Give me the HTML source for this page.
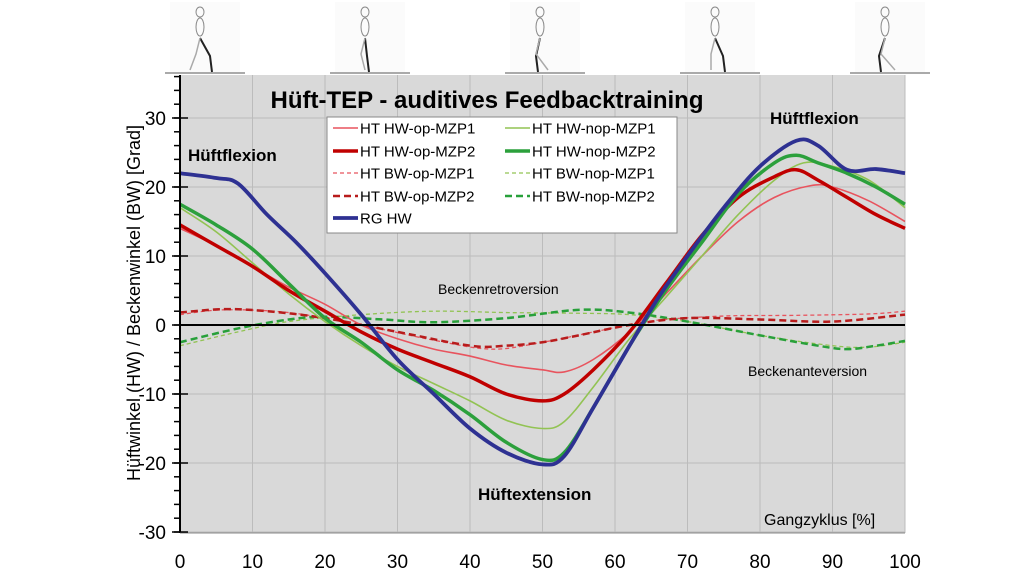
<!DOCTYPE html>
<html><head><meta charset="utf-8"><style>
body{margin:0;background:#fff;}
svg{display:block;font-family:"Liberation Sans",sans-serif;}
</style></head><body>
<svg id="s" width="1024" height="576" viewBox="0 0 1024 576" xmlns="http://www.w3.org/2000/svg">
<rect x="180" y="75" width="725" height="458" fill="#d9d9d9"/>
<g id="grid" stroke="#bcbcbc" stroke-width="1"></g>
<g id="figs"></g>
<g id="curves" fill="none"></g>
<line x1="180" y1="325" x2="905" y2="325" stroke="#000" stroke-width="2"/>
<line x1="180" y1="75" x2="180" y2="533" stroke="#000" stroke-width="2"/>
<line x1="180" y1="533" x2="905" y2="533" stroke="#888" stroke-width="1"/>
<g id="ticks" stroke="#000" stroke-width="1.5"></g>
<g id="labels" font-size="19" fill="#000"></g>
<text x="140" y="303" font-size="18" text-anchor="middle" transform="rotate(-90 140 303)">Hüftwinkel (HW) / Beckenwinkel (BW) [Grad]</text>
<text x="487" y="108" font-size="24" font-weight="bold" text-anchor="middle">Hüft-TEP - auditives Feedbacktraining</text>
<text x="188" y="161" font-size="17" font-weight="bold">Hüftflexion</text>
<text x="770" y="124" font-size="17" font-weight="bold">Hüftflexion</text>
<text x="478" y="500" font-size="17" font-weight="bold">Hüftextension</text>
<text x="438" y="294" font-size="14">Beckenretroversion</text>
<text x="748" y="376" font-size="14">Beckenanteversion</text>
<text x="764" y="525" font-size="16">Gangzyklus [%]</text>
<g id="legend"></g>
</svg>
<script>
const NS="http://www.w3.org/2000/svg";
function el(p,t,a,txt){const e=document.createElementNS(NS,t);for(const k in a)e.setAttribute(k,a[k]);if(txt!==undefined)e.textContent=txt;p.appendChild(e);return e;}
const X=v=>180+v*7.25, Y=v=>325-v*6.9;
const g=document.getElementById('grid'),tk=document.getElementById('ticks'),lb=document.getElementById('labels');
for(let i=10;i<=100;i+=10)el(g,'line',{x1:X(i),y1:75,x2:X(i),y2:533});
for(let v=-30;v<=30;v+=10){el(g,'line',{x1:180,y1:Y(v),x2:905,y2:Y(v)});el(tk,'line',{x1:172,y1:Y(v),x2:188,y2:Y(v)});
 el(lb,'text',{x:166,y:Y(v)+7,'text-anchor':'end'},v);}
for(let v=-30;v<=36;v+=2)el(tk,'line',{x1:174,y1:Y(v),x2:180,y2:Y(v)});
for(let i=0;i<=100;i+=10)el(lb,'text',{x:X(i),y:568,'text-anchor':'middle'},i);
const fg=document.getElementById('figs');
[200,365,540,715,885].forEach((cx,i)=>{
 el(fg,'rect',{x:cx-30,y:2,width:70,height:72,fill:'#fbfbfb'});
 el(fg,'line',{x1:cx-35,y1:73,x2:cx+45,y2:73,stroke:'#aaa','stroke-width':2});
 el(fg,'ellipse',{cx:cx,cy:12,rx:4,ry:5,fill:'none',stroke:'#888'});
 el(fg,'ellipse',{cx:cx,cy:27,rx:4,ry:9,fill:'none',stroke:'#888'});
 const s=[[-10,8],[0,0],[8,-6],[-4,6],[10,-8]][i];
 el(fg,'polyline',{points:`${cx},38 ${cx+2+s[1]},56 ${cx+4+s[1]},72`,fill:'none',stroke:'#222','stroke-width':2});
 el(fg,'polyline',{points:`${cx},38 ${cx-4},54 ${cx+s[0]},70`,fill:'none',stroke:'#aaa','stroke-width':1.5});
});
function path(pts){const p=pts.map(q=>[X(q[0]),Y(q[1])]);let d=`M${p[0][0]},${p[0][1]}`;
 for(let i=0;i<p.length-1;i++){const p0=p[i-1]||p[i],p1=p[i],p2=p[i+1],p3=p[i+2]||p2;
 d+=` C${p1[0]+(p2[0]-p0[0])/6},${p1[1]+(p2[1]-p0[1])/6} ${p2[0]-(p3[0]-p1[0])/6},${p2[1]-(p3[1]-p1[1])/6} ${p2[0]},${p2[1]}`;}return d;}
const S=[
 {n:'HT BW-nop-MZP1',c:'#92c353',w:1.3,d:'4,3',p:[[0,-3],[8,-1],[15,0.5],[25,1.5],[35,2],[45,1.8],[55,1.7],[62,1.5],[70,0.5],[80,-1.5],[90,-3],[95,-3.2],[100,-2.5]]},
 {n:'HT BW-nop-MZP2',c:'#28a03a',w:2.5,d:'7,4',p:[[0,-2.5],[8,-0.5],[15,0.8],[20,1.2],[28,0.8],[35,0.4],[45,1],[55,2.2],[62,1.8],[70,0.5],[80,-1.5],[88,-3],[92,-3.5],[96,-3],[100,-2.3]]},
 {n:'HT BW-op-MZP1',c:'#e8545e',w:1.3,d:'4,3',p:[[0,1.5],[6,2.2],[15,1.8],[25,0],[35,-2.2],[43,-3.5],[50,-2.5],[58,-0.8],[65,0.6],[75,1.3],[85,1.4],[95,1.6],[100,2]]},
 {n:'HT BW-op-MZP2',c:'#b81c1c',w:2.5,d:'7,4',p:[[0,1.8],[6,2.3],[12,2],[20,1],[30,-1],[40,-3],[45,-3],[50,-2.5],[55,-1.5],[62,0],[70,1],[80,0.8],[90,0.5],[100,1.5]]},
 {n:'HT HW-op-MZP1',c:'#e8545e',w:1.6,p:[[0,14],[5,11.5],[10,8.5],[15,5.5],[20,3],[25,0],[30,-2],[35,-3.5],[40,-4.5],[45,-5.8],[50,-6.5],[53,-6.8],[57,-5],[62,-1],[67,4.5],[72,10],[77,15],[82,18.5],[87,20.2],[90,20],[95,18],[100,15]]},
 {n:'HT HW-nop-MZP1',c:'#92c353',w:1.6,p:[[0,17],[5,13.5],[10,9],[15,4.5],[20,0.5],[25,-3],[30,-6],[35,-8.5],[40,-11],[45,-13.8],[50,-15],[53,-14],[57,-9],[62,-2],[67,4],[72,10],[77,16],[82,21],[86,23.5],[90,23],[95,21],[100,17]]},
 {n:'HT HW-op-MZP2',c:'#c00000',w:3.5,p:[[0,14.5],[5,11.5],[10,8.5],[15,5],[20,2],[25,-1],[30,-3.5],[35,-5.5],[40,-7.5],[45,-10],[50,-11],[53,-10],[57,-6.5],[62,-1],[67,6],[72,13],[77,18.5],[82,21.5],[85,22.5],[88,21],[92,18.5],[96,16],[100,14]]},
 {n:'HT HW-nop-MZP2',c:'#2ca03c',w:3.5,p:[[0,17.5],[5,14.5],[10,11],[15,6],[20,1],[25,-2.5],[30,-6.5],[35,-9.5],[40,-13],[45,-17],[50,-19.5],[53,-18.5],[57,-12],[62,-3],[67,5],[72,12],[77,19],[82,23.5],[85,24.6],[88,23.5],[92,22],[96,20],[100,17.5]]},
 {n:'RG HW',c:'#2e3192',w:3.8,p:[[0,22],[5,21.3],[8,20.5],[12,16],[16,12],[20,7.5],[25,1.5],[30,-5],[35,-10],[40,-15],[45,-18.5],[50,-20.2],[53,-19],[57,-12],[62,-3],[66,4],[70,10],[75,17],[80,23],[85,26.7],[88,26],[92,22.5],[96,22.6],[100,22]]}
];
const cv=document.getElementById('curves');
S.forEach(s=>{const a={d:path(s.p),stroke:s.c,'stroke-width':s.w};if(s.d)a['stroke-dasharray']=s.d;el(cv,'path',a);});
const lg=document.getElementById('legend');
el(lg,'rect',{x:327,y:117,width:350,height:116,fill:'#fff',stroke:'#888'});
const L=[['HT HW-op-MZP1',0,0],['HT HW-op-MZP2',0,1],['HT BW-op-MZP1',0,2],['HT BW-op-MZP2',0,3],['RG HW',0,4],
['HT HW-nop-MZP1',1,0],['HT HW-nop-MZP2',1,1],['HT BW-nop-MZP1',1,2],['HT BW-nop-MZP2',1,3]];
const ry=[128,151,173,196,218];
L.forEach(([n,c,r])=>{const s=S.find(q=>q.n===n);const x=c?505:333,y=ry[r];
 const a={x1:x,y1:y,x2:x+25,y2:y,stroke:s.c,'stroke-width':s.w};if(s.d)a['stroke-dasharray']=s.d;el(lg,'line',a);
 el(lg,'text',{x:x+27,y:y+5.5,'font-size':15},n);});
</script>
</body></html>
